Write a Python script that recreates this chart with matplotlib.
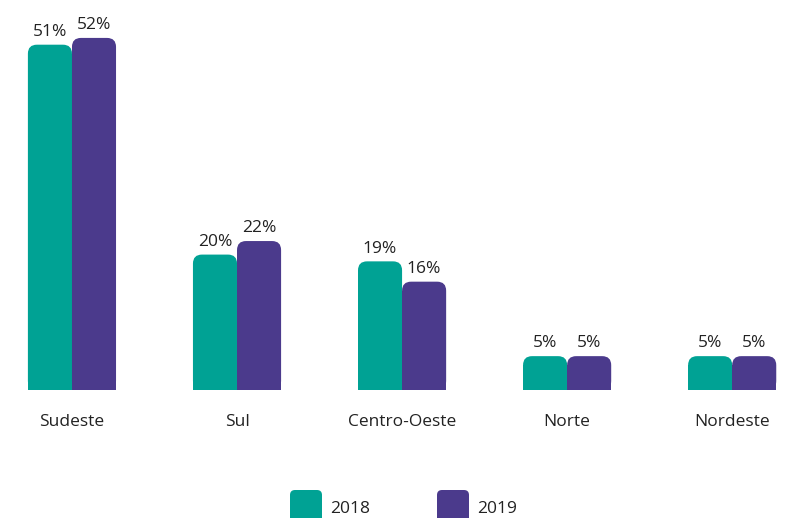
import matplotlib.pyplot as plt
from matplotlib.patches import FancyBboxPatch, Rectangle

regioes = ["Sudeste", "Sul", "Centro-Oeste", "Norte", "Nordeste"]
anos = ["2018", "2019"]
v2018 = [51, 20, 19, 5, 5]
v2019 = [52, 22, 16, 5, 5]
cores = ["#00A294", "#4B3A8C"]

plt.rcParams['font.family'] = ['Open Sans', 'DejaVu Sans']

fig = plt.figure(figsize=(7.85, 5.18), dpi=100)
ax = fig.add_axes([0, 128 / 518, 1, 390 / 518])
ax.set_xlim(-0.436, 4.32)
ax.set_ylim(0, 57.6)
ax.axis('off')

larg = 0.267
# raio do canto arredondado em pixels
r_px = 9
px_x = 785 / (4.32 + 0.436)
px_y = 390 / 57.6
rx = r_px / px_x
ry = r_px / px_y


def barra(x0, h, cor):
    # parte de baixo reta + topo arredondado
    ax.add_patch(Rectangle((x0, 0), larg, h - ry, color=cor, lw=0))
    ax.add_patch(FancyBboxPatch((x0, 0), larg, h,
                                boxstyle="round,pad=0,rounding_size=%f" % rx,
                                mutation_aspect=ry / rx, color=cor, lw=0))


for i, reg in enumerate(regioes):
    for j, vals in enumerate([v2018, v2019]):
        x0 = i - larg + j * larg
        barra(x0, vals[i], cores[j])
        ax.text(x0 + larg / 2, vals[i] + 0.7, "%d%%" % vals[i],
                ha='center', va='bottom', fontsize=12.5, color='#222222')
    ax.text(i, -3.6, reg, ha='center', va='top', fontsize=12.5, color='#222222')

# legenda manual na parte de baixo
for j, ano in enumerate(anos):
    x = 290 + j * 147
    fig.patches.append(FancyBboxPatch((x, -8), 32, 36,
                                      boxstyle="round,pad=0,rounding_size=5",
                                      transform=None, color=cores[j], lw=0))
    fig.text((x + 40) / 785, 9 / 518, ano, ha='left', va='center',
             fontsize=12.5, color='#222222')

fig.savefig("out.png", dpi=100)
